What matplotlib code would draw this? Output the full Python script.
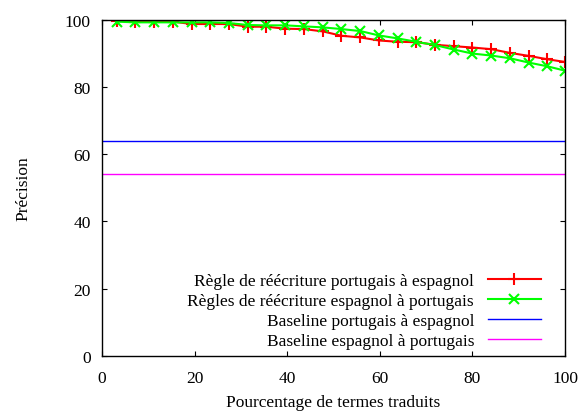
import matplotlib.pyplot as plt

# percentage of translated terms
x = [3.2, 7.2, 11.3, 15.3, 19.4, 23.4, 27.4, 31.5, 35.5, 39.6, 43.6, 47.7, 51.7,
     55.8, 59.8, 63.9, 67.9, 72.0, 76.0, 80.0, 84.1, 88.1, 92.2, 96.2, 100.0]
pt_es = [99.8, 99.5, 99.5, 99.5, 98.8, 98.8, 98.8, 98.0, 98.0, 97.4, 97.3, 96.6, 95.3,
         94.8, 93.9, 93.5, 93.4, 92.6, 92.2, 91.8, 91.3, 90.2, 89.3, 88.3, 87.5]
es_pt = [99.5, 99.3, 99.3, 99.3, 99.3, 99.3, 99.1, 98.5, 98.4, 98.4, 98.1, 97.8, 97.3,
         96.7, 95.4, 94.5, 93.5, 92.5, 91.2, 90.0, 89.4, 88.6, 87.3, 86.2, 84.9]
baseline_pt_es = 64.0
baseline_es_pt = 54.2

labels = ['Règle de réécriture portugais à espagnol',
          'Règles de réécriture espagnol à portugais',
          'Baseline portugais à espagnol',
          'Baseline espagnol à portugais']

plt.rcParams['font.family'] = ['Liberation Serif', 'DejaVu Serif']
plt.rcParams['font.size'] = 12.5

fig = plt.figure(figsize=(5.84, 4.14), dpi=100)
ax = fig.add_axes([0.1747, 0.1384, 0.7928, 0.8109])

ax.plot(x, pt_es, color='#ff0000', lw=1.5, marker='+', ms=8, mew=1.5, label=labels[0])
ax.plot(x, es_pt, color='#00ff00', lw=1.5, marker='x', ms=7, mew=1.5, label=labels[1])
ax.axhline(baseline_pt_es, color='#0000ff', lw=1.0, label=labels[2])
ax.axhline(baseline_es_pt, color='#ff00ff', lw=1.0, label=labels[3])

ax.set_xlim(0, 100)
ax.set_ylim(0, 100)
ax.set_xticks(range(0, 101, 20))
ax.set_yticks(range(0, 101, 20))
ax.tick_params(direction='in', length=3.5, width=0.8, top=True, right=True, pad=8)
ax.tick_params(axis='x', pad=10)
for s in ax.spines.values():
    s.set_linewidth(1.0)

ax.set_xlabel('Pourcentage de termes traduits', labelpad=6)
ax.set_ylabel('Précision', labelpad=24)

leg = ax.legend(loc='lower right', bbox_to_anchor=(0.948, 0.02), frameon=False,
                markerfirst=False, borderpad=0, borderaxespad=0,
                handlelength=3.05, handletextpad=0.8, labelspacing=0.215)

fig.savefig('out.png', dpi=100)
